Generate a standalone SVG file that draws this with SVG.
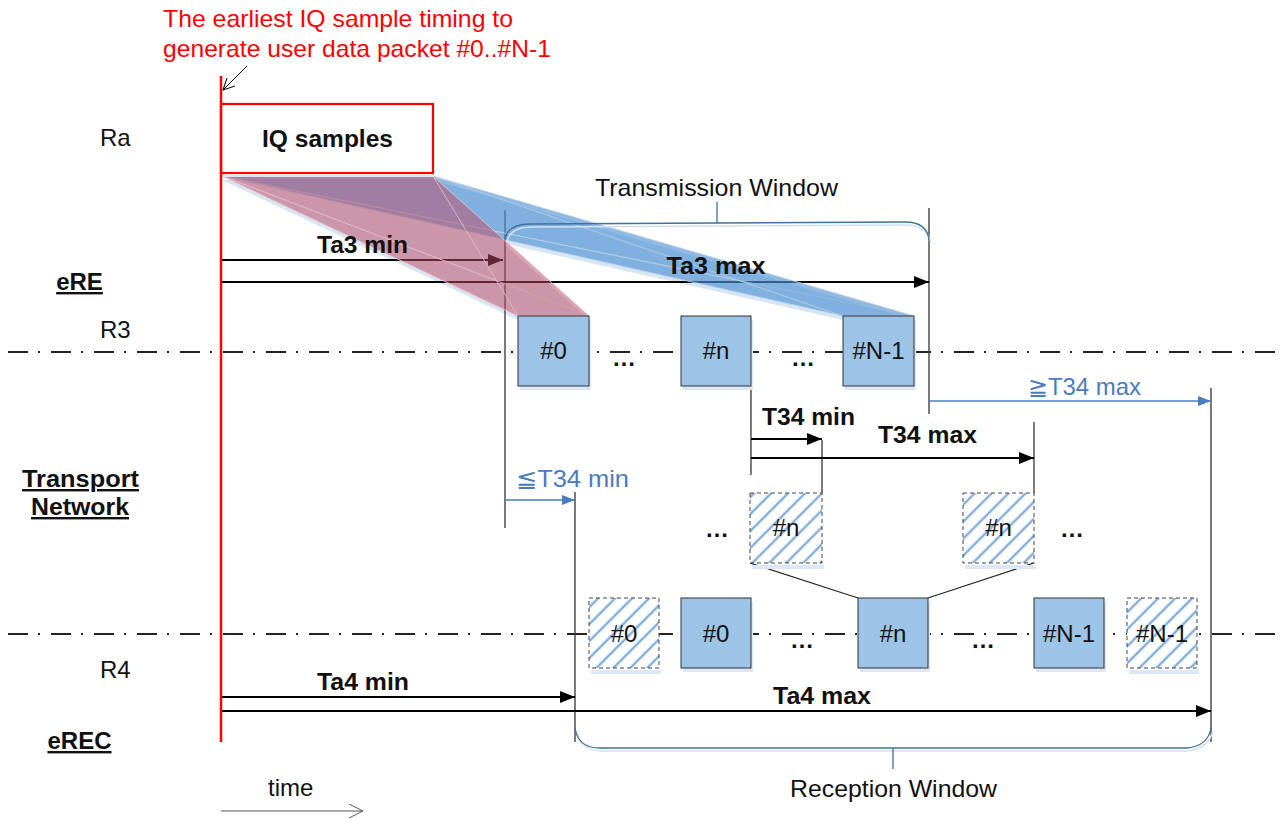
<svg xmlns="http://www.w3.org/2000/svg" width="1282" height="819" viewBox="0 0 1282 819">
<style>
text{font-family:"Liberation Sans",Arial,sans-serif;font-size:24px;fill:#111}
.b{font-weight:bold}
.u{text-decoration:underline}
.c{text-anchor:middle}
.blue{fill:#4A7BBF}
.red{fill:#FF0000}
.box{fill:#9DC3E6;stroke:#333;stroke-width:1}
.hbox{fill:url(#hatch);stroke:#444;stroke-width:1;stroke-dasharray:4 3}
.shadow{fill:#DCE8F5}
.vl{stroke:#333;stroke-width:1.3;fill:none}
.arr{stroke:#000;stroke-width:2.2;fill:none;marker-end:url(#ah)}
.barr{stroke:#4A7BBF;stroke-width:1.3;fill:none;marker-end:url(#ahb)}
.dd{stroke:#222;stroke-width:2;stroke-dasharray:20 10 2 11;fill:none}
.br{stroke:#41719C;stroke-width:1.3;fill:none}
.brs{stroke:#D2E1F1;stroke-width:1.5;fill:none}
.rf{fill:#C04C68;fill-opacity:0.3;stroke:#E8C8D0;stroke-width:0.6}
.bf{fill:#4F93D4;fill-opacity:0.4;stroke:#C8D8EA;stroke-width:0.6}
.fs{fill:#D8E5F3}
.dots{font-weight:bold;text-anchor:middle}
</style>
<defs>
<marker id="ah" markerUnits="userSpaceOnUse" markerWidth="16" markerHeight="12" refX="15" refY="6" orient="auto"><path d="M0,0 L15,6 L0,12 z" fill="#000"/></marker>
<marker id="ahb" markerUnits="userSpaceOnUse" markerWidth="14" markerHeight="10" refX="13" refY="5" orient="auto"><path d="M0,0 L13,5 L0,10 z" fill="#4A7BBF"/></marker>
<marker id="aho" markerUnits="userSpaceOnUse" markerWidth="16" markerHeight="14" refX="14" refY="7" orient="auto"><path d="M0,0 L14,7 L0,14" fill="none" stroke="#555" stroke-width="1"/></marker>
<marker id="ahk" markerUnits="userSpaceOnUse" markerWidth="14" markerHeight="12" refX="12" refY="6" orient="auto"><path d="M0,0 L12,6 L0,12" fill="none" stroke="#000" stroke-width="1"/></marker>
<pattern id="hatch" patternUnits="userSpaceOnUse" width="12" height="12" patternTransform="rotate(45)">
<rect width="12" height="12" fill="#fff"/>
<line x1="6" y1="0" x2="6" y2="12" stroke="#C5DAF0" stroke-width="3"/>
<line x1="6" y1="0" x2="6" y2="12" stroke="#5B93D3" stroke-width="1.2"/>
</pattern>
</defs>
<rect width="1282" height="819" fill="#fff"/>

<!-- fan shadows -->
<g id="fan-shadows">
<polygon class="fs" points="222,180 433,180 589,320 518,320"/>
<polygon class="fs" points="222,180 433,180 914,320 843,320"/>
</g>

<!-- reference lines -->
<g id="ref-lines">
<line class="dd" x1="8" y1="352" x2="1282" y2="352"/>
<line class="dd" x1="8" y1="634" x2="1282" y2="634"/>
</g>

<!-- connectors -->
<g id="connectors">
<line class="vl" x1="505" y1="210" x2="505" y2="528"/>
<line class="vl" x1="929" y1="208" x2="929" y2="414"/>
<line class="vl" x1="751" y1="386" x2="751" y2="475"/>
<line class="vl" x1="822" y1="440" x2="822" y2="493"/>
<line class="vl" x1="1034" y1="422" x2="1034" y2="493"/>
<line class="vl" x1="575" y1="492" x2="575" y2="742"/>
<line class="vl" x1="1211" y1="388" x2="1211" y2="742"/>
<line class="arr" x1="222" y1="260" x2="503" y2="260"/>
<line class="arr" x1="222" y1="282" x2="929" y2="282"/>
<line class="arr" x1="751" y1="439" x2="822" y2="439"/>
<line class="arr" x1="751" y1="458" x2="1034" y2="458"/>
<line class="barr" x1="929" y1="401" x2="1211" y2="401"/>
<line class="barr" x1="505" y1="500" x2="575" y2="500"/>
<line class="arr" x1="222" y1="697" x2="575" y2="697"/>
<line class="arr" x1="222" y1="711" x2="1211" y2="711"/>
<line x1="750" y1="563" x2="858" y2="598" stroke="#222" stroke-width="1.2"/>
<line x1="1034" y1="563" x2="928" y2="598" stroke="#222" stroke-width="1.2"/>
<line x1="221" y1="811" x2="363" y2="811" stroke="#555" stroke-width="1.2" marker-end="url(#aho)"/>
<line x1="247" y1="66" x2="223" y2="90" stroke="#000" stroke-width="1" marker-end="url(#ahk)"/>
</g>

<!-- fans -->
<g id="fans">
<polygon class="bf" points="222,176 433,176 843,316"/>
<polygon class="bf" points="222,176 433,176 914,316"/>
<polygon class="bf" points="222,176 843,316 914,316"/>
<polygon class="bf" points="433,176 843,316 914,316"/>
<polygon class="rf" points="222,176 433,176 518,316"/>
<polygon class="rf" points="222,176 433,176 589,316"/>
<polygon class="rf" points="222,176 518,316 589,316"/>
<polygon class="rf" points="433,176 518,316 589,316"/>
</g>

<!-- windows -->
<g id="transmission-window">
<path class="brs" d="M507,243 Q509,227 532,227 L905,225 Q927,225 931,243"/>
<path class="br" d="M505,240 Q507,224 530,224 L905,222 Q927,222 929,240"/>
<line class="br" x1="717" y1="202" x2="717" y2="223"/>
<text class="c" x="716.5" y="196" textLength="243" lengthAdjust="spacingAndGlyphs">Transmission Window</text>
</g>
<g id="reception-window">
<path class="brs" d="M577,731 Q580,751 602,751 L1187,751 Q1208,749 1213,731"/>
<path class="br" d="M575,728 Q578,748 600,748 L1187,748 Q1208,746 1211,728"/>
<line class="br" x1="893" y1="748" x2="893" y2="769"/>
<text class="c" x="893.5" y="797" textLength="207" lengthAdjust="spacingAndGlyphs">Reception Window</text>
</g>

<!-- IQ samples and red time line -->
<g id="iq-samples">
<rect x="224" y="106" width="209" height="70" fill="none" stroke="#D8E6F3" stroke-width="2"/>
<rect x="221" y="104" width="212" height="69" fill="#fff" stroke="#FF0000" stroke-width="2.2"/>
<text class="b c" x="327.5" y="147" textLength="131" lengthAdjust="spacingAndGlyphs">IQ samples</text>
</g>
<g id="red-line">
<line x1="221" y1="76" x2="221" y2="742" stroke="#FF0000" stroke-width="2.5"/>
</g>
<g id="note">
<text class="red" x="163" y="27" textLength="350" lengthAdjust="spacingAndGlyphs">The earliest IQ sample timing to</text>
<text class="red" x="163" y="57" textLength="388" lengthAdjust="spacingAndGlyphs">generate user data packet #0..#N-1</text>
</g>

<!-- R3 packets -->
<g id="r3-p0"><rect class="shadow" x="520" y="320" width="71" height="70"/><rect class="box" x="518" y="316" width="71" height="70"/><text class="c" x="553.5" y="359">#0</text></g>
<g id="r3-pn"><rect class="shadow" x="683" y="320" width="70" height="70"/><rect class="box" x="681" y="316" width="70" height="70"/><text class="c" x="716" y="359">#n</text></g>
<g id="r3-pN"><rect class="shadow" x="845" y="320" width="71" height="70"/><rect class="box" x="843" y="316" width="71" height="70"/><text class="c" x="878.5" y="359">#N-1</text></g>
<text class="dots" x="624" y="366">…</text>
<text class="dots" x="803" y="366">…</text>

<!-- transport packets -->
<g id="tn-pn1"><rect class="shadow" x="752" y="565" width="72" height="4"/><rect class="hbox" x="750" y="493" width="72" height="70"/><text class="c" x="786" y="536">#n</text></g>
<g id="tn-pn2"><rect class="shadow" x="965" y="565" width="71" height="4"/><rect class="hbox" x="963" y="493" width="71" height="70"/><text class="c" x="998.5" y="536">#n</text></g>
<text class="dots" x="717" y="537">…</text>
<text class="dots" x="1072" y="537">…</text>

<!-- R4 packets -->
<g id="r4-h0"><rect class="shadow" x="591" y="670" width="70" height="4"/><rect class="hbox" x="589" y="598" width="70" height="70"/><text class="c" x="624" y="642">#0</text></g>
<g id="r4-p0"><rect class="shadow" x="683" y="602" width="70" height="70"/><rect class="box" x="681" y="598" width="70" height="70"/><text class="c" x="716" y="642">#0</text></g>
<g id="r4-pn"><rect class="shadow" x="860" y="602" width="70" height="70"/><rect class="box" x="858" y="598" width="70" height="70"/><text class="c" x="893" y="642">#n</text></g>
<g id="r4-pN"><rect class="shadow" x="1036" y="602" width="70" height="70"/><rect class="box" x="1034" y="598" width="70" height="70"/><text class="c" x="1069" y="642">#N-1</text></g>
<g id="r4-hN"><rect class="shadow" x="1129" y="670" width="70" height="4"/><rect class="hbox" x="1127" y="598" width="70" height="70"/><text class="c" x="1162" y="642">#N-1</text></g>
<text class="dots" x="802" y="648">…</text>
<text class="dots" x="983" y="648">…</text>

<!-- labels -->
<g id="labels">
<text x="100" y="146">Ra</text>
<text x="100" y="338">R3</text>
<text x="100" y="678">R4</text>
<text class="b u c" x="79.5" y="290">eRE</text>
<text class="b u c" x="80.5" y="487" textLength="117" lengthAdjust="spacingAndGlyphs">Transport</text>
<text class="b u c" x="80" y="515" textLength="98" lengthAdjust="spacingAndGlyphs">Network</text>
<text class="b u c" x="79.5" y="749">eREC</text>
<text class="b c" x="362.5" y="253" textLength="91" lengthAdjust="spacingAndGlyphs">Ta3 min</text>
<text class="b c" x="716" y="274" textLength="99" lengthAdjust="spacingAndGlyphs">Ta3 max</text>
<text class="b" x="762" y="425" textLength="93" lengthAdjust="spacingAndGlyphs">T34 min</text>
<text class="b c" x="927.5" y="443" textLength="99" lengthAdjust="spacingAndGlyphs">T34 max</text>
<text class="blue" x="1028" y="395" textLength="113" lengthAdjust="spacingAndGlyphs">≧T34 max</text>
<text class="blue" x="516" y="487" textLength="113" lengthAdjust="spacingAndGlyphs">≦T34 min</text>
<text class="b c" x="363" y="690" textLength="92" lengthAdjust="spacingAndGlyphs">Ta4 min</text>
<text class="b c" x="822" y="704" textLength="98" lengthAdjust="spacingAndGlyphs">Ta4 max</text>
<text x="268" y="796">time</text>
</g>
</svg>
